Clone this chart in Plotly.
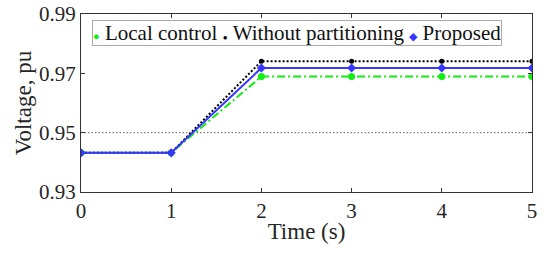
import plotly.graph_objects as go

time_s = [0, 1, 2, 3, 4, 5]
local_control = [0.9432, 0.9432, 0.9689, 0.9689, 0.9689, 0.9689]
without_partitioning = [0.9432, 0.9432, 0.9741, 0.9741, 0.9741, 0.9741]
proposed = [0.9432, 0.9432, 0.9718, 0.9718, 0.9718, 0.9718]
limit_value = 0.95
x_ticks = [0, 1, 2, 3, 4, 5]
y_ticks = [0.93, 0.95, 0.97, 0.99]
series_names = ["Local control", "Without partitioning", "Proposed"]

GREEN = "#11ee11"
BLACK = "#000000"
BLUE = "#3636ff"
FONT = "Liberation Serif"
TXT = "#262626"

fig = go.Figure()
fig.add_trace(go.Scatter(x=[time_s[0], time_s[-1]], y=[limit_value, limit_value], mode="lines",
                         line=dict(color="#808080", width=1.3, dash="1.5px,2px"), showlegend=False,
                         hoverinfo="skip"))
fig.add_trace(go.Scatter(x=time_s, y=local_control, mode="lines+markers", name=series_names[0],
                         line=dict(color=GREEN, width=2, dash="8px,3px,2px,3px"),
                         marker=dict(symbol="circle", size=7, color=GREEN)))
fig.add_trace(go.Scatter(x=time_s, y=without_partitioning, mode="lines+markers", name=series_names[1],
                         line=dict(color=BLACK, width=2, dash="2px,2px"),
                         marker=dict(symbol="circle", size=5, color=BLACK)))
fig.add_trace(go.Scatter(x=time_s, y=proposed, mode="lines+markers", name=series_names[2],
                         line=dict(color=BLUE, width=2),
                         marker=dict(symbol="diamond", size=7, color=BLUE)))

# compact boxed legend (marker glyph + real text), like the original figure
NB = "\u00a0"
legend_html = (
    f"<span style='color:{GREEN};font-size:11px'>●</span> {series_names[0]}{NB}"
    f"<span style='color:{BLACK};font-size:8px'>●</span>{NB}{series_names[1]}{NB}"
    f"<span style='color:{BLUE};font-size:11px'>◆</span>{NB}{series_names[2]}"
)
fig.add_annotation(xref="paper", yref="paper", x=0.024, y=0.966, xanchor="left", yanchor="top",
                   text=legend_html, showarrow=False, align="left",
                   font=dict(family=FONT, size=21, color="#111111"),
                   bgcolor="white", bordercolor="#aaaaaa", borderwidth=1, borderpad=0)

axis_common = dict(showline=True, linecolor="#333333", linewidth=1, mirror="ticks", ticks="inside",
                   ticklen=4, tickcolor="#333333", showgrid=False, zeroline=False, automargin=False,
                   ticklabeloverflow="allow",
                   tickfont=dict(family=FONT, size=21, color=TXT))
fig.update_xaxes(range=[0, 5], tickvals=x_ticks, ticktext=[str(v) for v in x_ticks],
                 title=dict(text="Time (s)", font=dict(family=FONT, size=23, color=TXT), standoff=0),
                 **axis_common)
fig.update_yaxes(range=[0.93, 0.99], tickvals=y_ticks, ticktext=[f"{v:.2f}" for v in y_ticks],
                 title=dict(text="Voltage, pu", font=dict(family=FONT, size=23, color=TXT), standoff=0),
                 **axis_common)
fig.update_layout(
    width=544, height=257,
    margin=dict(l=81, r=12, t=14, b=65),
    plot_bgcolor="white", paper_bgcolor="white",
    font=dict(family=FONT, color=TXT),
    showlegend=False,
)
fig.write_html("out.html", config={"displayModeBar": False},
               post_script="document.body.style.margin='0';")
